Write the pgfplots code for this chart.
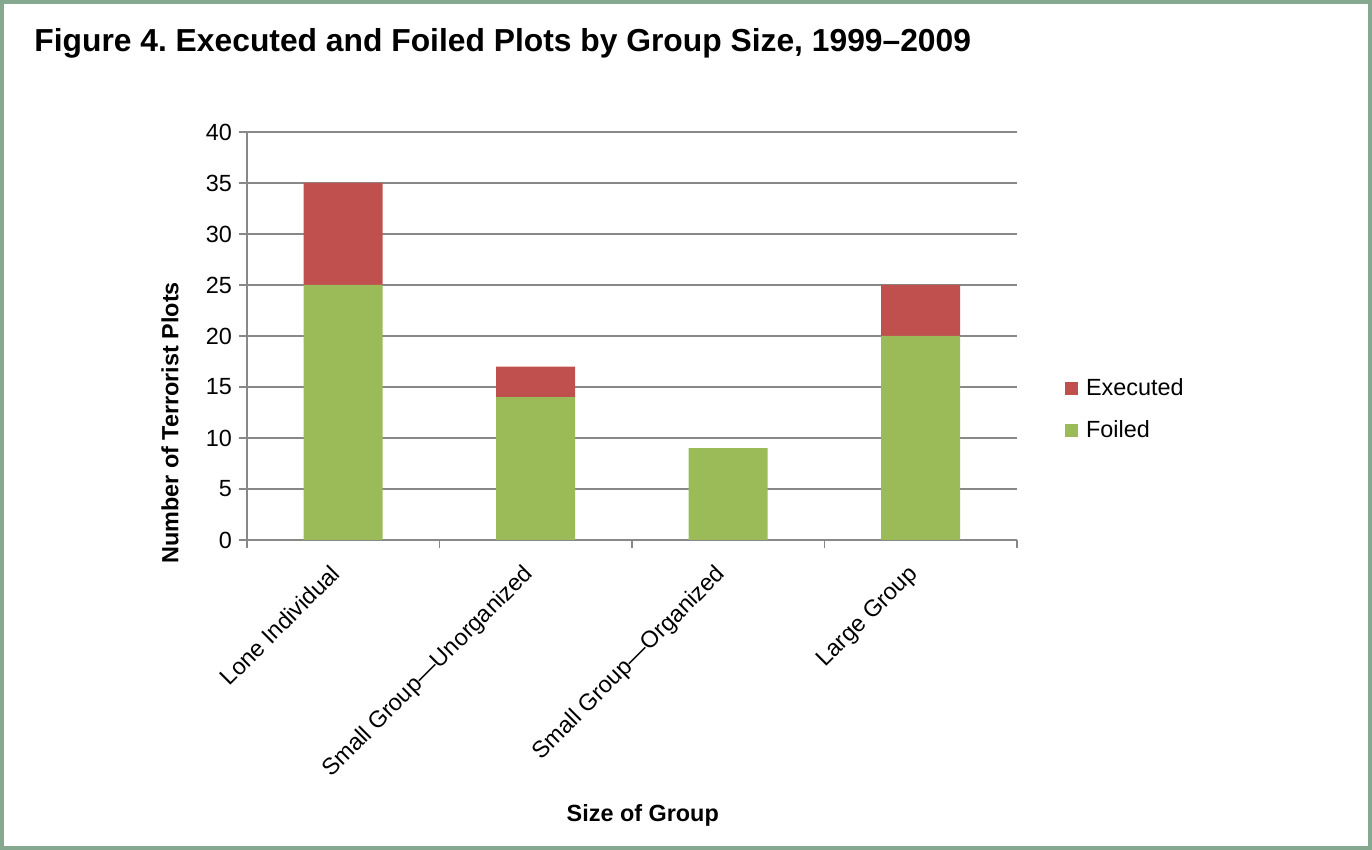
\documentclass[border=0pt]{standalone}
\usepackage{fontspec}
\setmainfont{Liberation Sans}
\usepackage{pgfplots}
\pgfplotsset{compat=1.18}
\definecolor{execc}{HTML}{C0504D}
\definecolor{foilc}{HTML}{9BBB59}
\definecolor{gridc}{HTML}{888888}
\definecolor{framec}{HTML}{86A88F}
\frenchspacing

\begin{document}
\begin{tikzpicture}
\begin{axis}[
  scale only axis, width=385pt, height=204pt,
  ybar stacked, bar width=39.5pt,
  xmin=-0.5, xmax=3.5, ymin=0, ymax=40,
  ytick={0,5,...,40},
  xtick={-0.5,0.5,1.5,2.5,3.5},
  xticklabels={},
  extra x ticks={0,1,2,3},
  extra x tick labels={Lone Individual,Small Group—Unorganized,Small Group—Organized,Large Group},
  extra x tick style={tick style={draw=none}},
  axis lines*=left,
  axis line style={gridc, line width=0.75pt},
  tick align=outside,
  major tick length=4pt,
  tick style={gridc, line width=0.75pt},
  ymajorgrids,
  major grid style={gridc, line width=0.75pt},
  tick label style={font=\fontsize{11.7}{14}\selectfont, black},
  /pgf/number format/assume math mode=true,
  x tick label style={xshift=-7pt, yshift=-6pt, rotate=45, anchor=north east, inner sep=1pt},
  xlabel={Size of Group},
  ylabel={Number of Terrorist Plots},
  every axis x label/.style={at={(rel axis cs:0.514,-0.674)}, anchor=center,
    font=\fontsize{11.7}{14}\selectfont\bfseries},
  every axis y label/.style={at={(rel axis cs:-0.1,0.287)}, rotate=90, anchor=center,
    font=\fontsize{11.7}{14}\selectfont\bfseries},
  legend style={at={(rel axis cs:1.062,0.319)}, anchor=west, draw=none, fill=none,
    font=\fontsize{11.7}{14}\selectfont, row sep=7pt, inner sep=0pt,
    cells={anchor=west},
    /tikz/every odd column/.append style={column sep=2pt}},
  reverse legend,
]
\addplot[fill=foilc, draw=none,
  legend image code/.code={\fill[foilc] (0pt,-3.25pt) rectangle (6.5pt,3.25pt);}]
  coordinates {(0,25) (1,14) (2,9) (3,20)};
\addplot[fill=execc, draw=none,
  legend image code/.code={\fill[execc] (0pt,-3.25pt) rectangle (6.5pt,3.25pt);}]
  coordinates {(0,10) (1,3) (2,0) (3,5)};
\legend{Foiled,Executed}
\coordinate (O) at (rel axis cs:0,0);
\end{axis}
% frame and title, placed from the axis corner (1px = 0.5pt)
\begin{scope}[shift={(O)}, x=1pt, y=1pt]
\draw[framec, line width=2pt] (-122.5,-154) rectangle (561.5,269);
\node[anchor=base west, inner sep=0pt, font=\fontsize{15.9}{20}\selectfont\bfseries]
  at (-106.5,244) {Figure 4. Executed and Foiled Plots by Group Size, 1999–2009};
\end{scope}
\end{tikzpicture}
\end{document}
